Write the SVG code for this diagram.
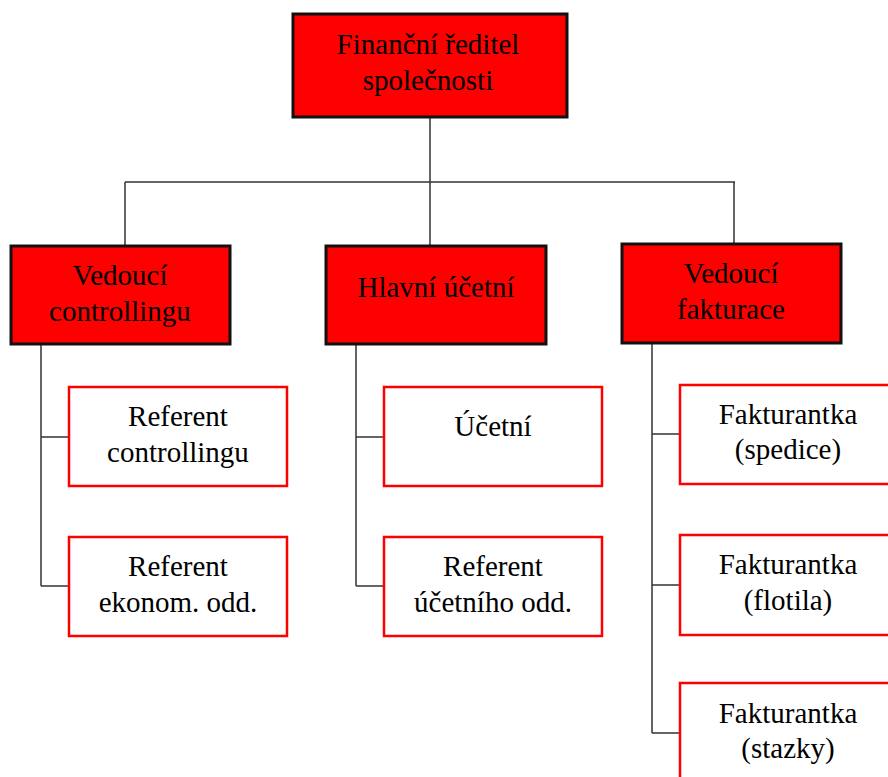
<svg xmlns="http://www.w3.org/2000/svg" width="888" height="777" viewBox="0 0 888 777" font-family="Liberation Serif, DejaVu Serif, serif">
<style>
.head{fill:#ff0000;stroke:#111;stroke-width:3}
.sub{fill:#fff;stroke:#ff0000;stroke-width:2.5}
.t{font-size:29px;fill:#000;text-anchor:middle}
.c{stroke:#333;stroke-width:1.5;fill:none}
</style>
<rect width="888" height="777" fill="#fff"/>
<g id="connectors">
<path class="c" d="M430,117V182M125,182H735M125,182V246M430,182V246M734,182V244"/>
<path class="c" d="M41,344V586M41,437H69M41,586H69"/>
<path class="c" d="M356,344V586M356,437H384M356,586H384"/>
<path class="c" d="M652,343V733M652,434H680M652,585H680M652,733H680"/>
</g>
<g id="n-financni">
<rect class="head" x="293" y="14" width="274" height="103"/>
<text class="t" x="428" y="54">Finanční ředitel</text>
<text class="t" x="428" y="90">společnosti</text>
</g>
<g id="n-controlling">
<rect class="head" x="11" y="246" width="219" height="98"/>
<text class="t" x="120" y="285">Vedoucí</text>
<text class="t" x="120" y="321">controllingu</text>
</g>
<g id="n-hlavni">
<rect class="head" x="326" y="246" width="220" height="98"/>
<text class="t" x="436" y="297">Hlavní účetní</text>
</g>
<g id="n-fakturace">
<rect class="head" x="622" y="244" width="219" height="99"/>
<text class="t" x="731" y="283">Vedoucí</text>
<text class="t" x="731" y="319">fakturace</text>
</g>
<g id="n-ref-controlling">
<rect class="sub" x="69" y="387" width="218" height="99"/>
<text class="t" x="178" y="426">Referent</text>
<text class="t" x="178" y="462">controllingu</text>
</g>
<g id="n-ref-ekonom">
<rect class="sub" x="69" y="537" width="218" height="99"/>
<text class="t" x="178" y="576">Referent</text>
<text class="t" x="178" y="612">ekonom. odd.</text>
</g>
<g id="n-ucetni">
<rect class="sub" x="384" y="387" width="218" height="99"/>
<text class="t" x="493" y="436">Účetní</text>
</g>
<g id="n-ref-ucetni">
<rect class="sub" x="384" y="537" width="218" height="99"/>
<text class="t" x="493" y="576">Referent</text>
<text class="t" x="493" y="612">účetního odd.</text>
</g>
<g id="n-fakt-spedice">
<rect class="sub" x="680" y="385" width="216" height="99"/>
<text class="t" x="788" y="424">Fakturantka</text>
<text class="t" x="788" y="459">(spedice)</text>
</g>
<g id="n-fakt-flotila">
<rect class="sub" x="680" y="535" width="216" height="100"/>
<text class="t" x="788" y="574">Fakturantka</text>
<text class="t" x="788" y="610">(flotila)</text>
</g>
<g id="n-fakt-stazky">
<rect class="sub" x="680" y="683" width="216" height="100"/>
<text class="t" x="788" y="723">Fakturantka</text>
<text class="t" x="788" y="758">(stazky)</text>
</g>
</svg>
